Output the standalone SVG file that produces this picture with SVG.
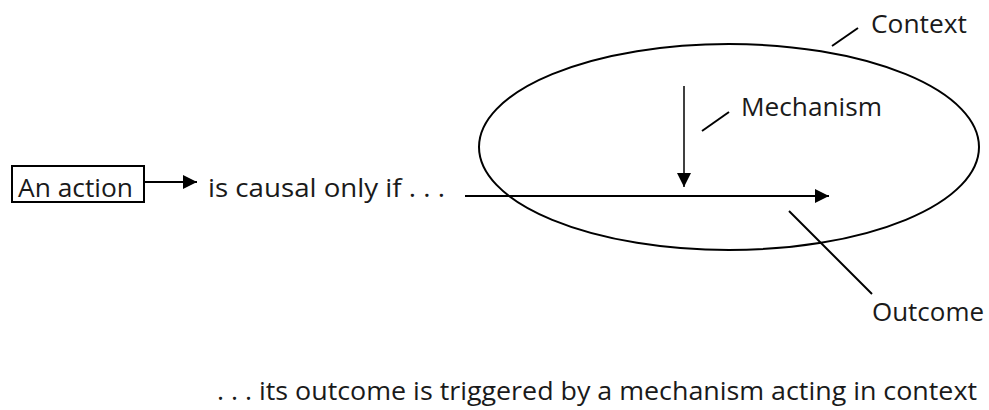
<svg xmlns="http://www.w3.org/2000/svg" width="989" height="410" viewBox="0 0 989 410">
<style>
text{font-family:"Open Sans","Liberation Sans",sans-serif;font-size:25px;fill:#1a1a1a}
.ln{stroke:#000;stroke-width:2;fill:none}
.thin{stroke:#000;stroke-width:1.5;fill:none}
</style>
<defs>
<marker id="ah" viewBox="0 0 10 10" refX="10" refY="5" markerWidth="16" markerHeight="14" markerUnits="userSpaceOnUse" orient="auto">
<path d="M0,0 L10,5 L0,10 z" fill="#000"/>
</marker>
</defs>
<rect width="989" height="410" fill="#fff"/>
<g id="context">
<ellipse cx="729" cy="147" rx="250" ry="103" class="ln"/>
<line x1="832" y1="46" x2="858" y2="28" class="ln"/>
<text x="871" y="33" textLength="96" lengthAdjust="spacingAndGlyphs">Context</text>
</g>
<g id="mechanism">
<line x1="702" y1="131" x2="729" y2="112" class="ln"/>
<text x="741" y="116" textLength="141" lengthAdjust="spacingAndGlyphs">Mechanism</text>
</g>
<g id="outcome">
<line x1="789" y1="211" x2="872" y2="294" class="ln"/>
<text x="872" y="321" textLength="112" lengthAdjust="spacingAndGlyphs">Outcome</text>
</g>
<g id="action">
<rect x="12" y="166" width="132" height="36" class="ln"/>
<text x="18" y="197" textLength="115" lengthAdjust="spacingAndGlyphs">An action</text>
</g>
<g id="causal">
<text x="208" y="197" textLength="237" lengthAdjust="spacingAndGlyphs">is causal only if . . .</text>
</g>
<g id="caption">
<text x="217" y="400" textLength="760" lengthAdjust="spacingAndGlyphs">. . . its outcome is triggered by a mechanism acting in context</text>
</g>
<g id="connectors">
<line x1="144" y1="182" x2="197" y2="182" class="ln" marker-end="url(#ah)"/>
<line x1="465" y1="196" x2="829" y2="196" class="ln" marker-end="url(#ah)"/>
<line x1="684" y1="86" x2="684" y2="187" class="thin" marker-end="url(#ah)"/>
</g>
</svg>
